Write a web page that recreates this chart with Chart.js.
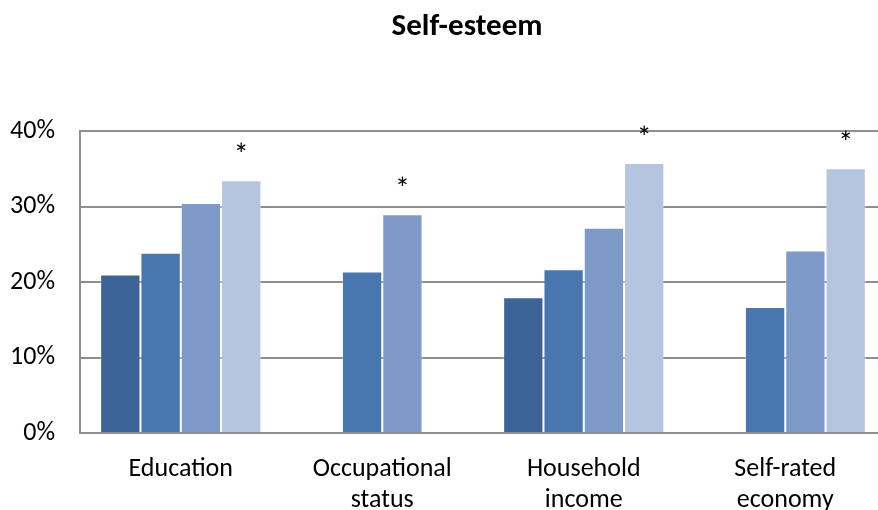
<!DOCTYPE html>
<html>
<head>
<meta charset="utf-8">
<script src="https://cdn.jsdelivr.net/npm/chart.js@4/dist/chart.umd.min.js"></script>
<style>
    html, body { margin: 0; padding: 0; background: #fff; overflow: hidden; }
    #wrap { width: 878px; height: 510px; overflow: hidden; }
</style>
</head>
<body>
<div id="wrap"><canvas id="chart" width="934" height="520"></canvas></div>
<script>
const categories = [["Education"], ["Occupational", "status"], ["Household", "income"], ["Self-rated", "economy"]];
const series1 = [21.0, null, 18.0, null];
const series2 = [23.9, 21.4, 21.7, 16.7];
const series3 = [30.5, 29.0, 27.2, 24.2];
const series4 = [33.5, null, 35.8, 35.1];
// which series carries the asterisk in each category
const starSeries = [3, 2, 3, 3];
const yTicks = [0, 10, 20, 30, 40];

const FONT = "Carlito, Lato, sans-serif";
const colors = ["#3d6496", "#4877b0", "#7e9bc8", "#b6c5df"];
const gridColor = "#8e8e8e";

const starPlugin = {
    id: "stars",
    afterDatasetsDraw(chart) {
        const ctx = chart.ctx;
        ctx.save();
        ctx.fillStyle = "#000";
        ctx.font = "30px " + FONT;
        ctx.textAlign = "center";
        ctx.textBaseline = "alphabetic";
        starSeries.forEach((s, i) => {
            const bar = chart.getDatasetMeta(s).data[i];
            ctx.fillText("*", bar.x, bar.y - 15);
        });
        ctx.restore();
    }
};

const seriesData = [series1, series2, series3, series4];

new Chart(document.getElementById("chart").getContext("2d"), {
    type: "bar",
    data: {
        labels: categories,
        datasets: seriesData.map((d, i) => ({
            label: "Series " + (i + 1),
            data: d,
            backgroundColor: colors[i],
            borderColor: "rgba(255,255,255,0.35)",
            borderWidth: 1,
            categoryPercentage: 0.8,
            barPercentage: 1.0
        }))
    },
    options: {
        responsive: false,
        animation: false,
        layout: { padding: 0 },
        plugins: {
            legend: { display: false },
            tooltip: { enabled: false },
            title: {
                display: true,
                text: "Self-esteem",
                color: "#000",
                font: { family: FONT, size: 31, weight: "bold", lineHeight: 1.2 },
                padding: { top: 9, bottom: 85 }
            }
        },
        scales: {
            x: {
                grid: { display: true, drawOnChartArea: false, drawTicks: false },
                border: { display: true, color: gridColor, width: 2 },
                ticks: {
                    color: "#000",
                    font: { family: FONT, size: 26, lineHeight: 1.2 },
                    padding: 21,
                    maxRotation: 0,
                    autoSkip: false
                },
                afterFit: (s) => { s.height = 87; }
            },
            y: {
                min: 0,
                max: 40,
                afterBuildTicks: (s) => { s.ticks = yTicks.map(v => ({ value: v })); },
                grid: { color: gridColor, lineWidth: 2, drawTicks: false },
                border: { display: true, color: gridColor, width: 2 },
                ticks: {
                    color: "#000",
                    font: { family: FONT, size: 26 },
                    padding: 25,
                    callback: (v) => v + "%"
                },
                afterFit: (s) => { s.width = 80; }
            },
            // empty right-hand axis: only reserves the space past the window edge
            yRight: {
                position: "right",
                min: 0,
                max: 40,
                grid: { display: false },
                border: { display: false },
                ticks: { display: false },
                afterFit: (s) => { s.width = 48; }
            }
        }
    },
    plugins: [starPlugin]
});
</script>
</body>
</html>
